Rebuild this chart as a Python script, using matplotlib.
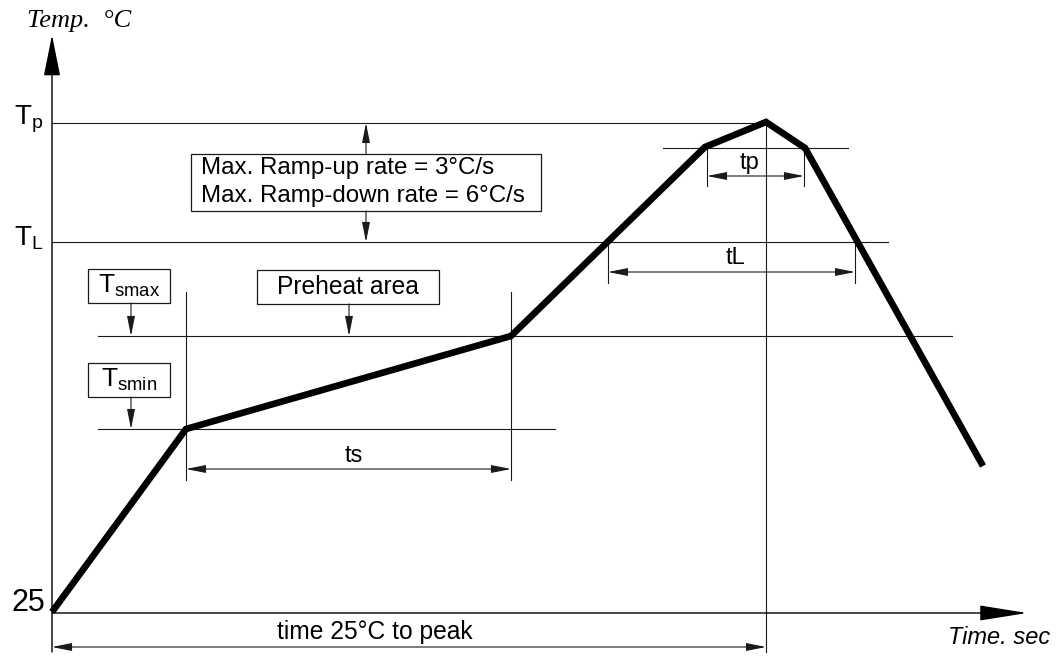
import matplotlib as mpl
mpl.use("Agg")
import matplotlib.pyplot as plt
from matplotlib.patches import Rectangle

# reflow profile, schematic units (time right, temperature up)
profile_time = [0, 134, 459, 653, 714, 753, 931]
profile_temp = [0, 183, 276, 465, 490, 464, 146]

# temperature levels
T_p = 489
T_L = 370
T_smax = 276
T_smin = 183
tp_level = 464

# time marks
ts_start, ts_end = 134, 459
tL_start, tL_end = 556, 803
tp_start, tp_end = 655, 752
t_peak = 714

LINE = "#1a1a1a"
thin = dict(color=LINE, lw=0.8)

plt.rcParams["font.family"] = ["Liberation Sans", "DejaVu Sans"]

fig = plt.figure(figsize=(10.59, 6.57), dpi=100)
ax = fig.add_axes([0, 0, 1, 1])
ax.set_xlim(-52, 1007)
ax.set_ylim(-45, 612)
ax.axis("off")


def arrow(x0, y0, x1, y1, style="-|>"):
    ax.annotate("", xy=(x1, y1), xytext=(x0, y0),
                arrowprops=dict(arrowstyle=style + ",head_length=1.0,head_width=0.2",
                                color=LINE, lw=0.8, shrinkA=0, shrinkB=0,
                                mutation_scale=12))


def box(x0, y0, x1, y1):
    ax.add_patch(Rectangle((x0, y0), x1 - x0, y1 - y0, fill=False,
                           edgecolor=LINE, lw=0.9))


# axes with big arrowheads
ax.annotate("", xy=(0, 577), xytext=(0, -40),
            arrowprops=dict(arrowstyle="-|>,head_length=1.3,head_width=0.26",
                            color="black", lw=1.0, shrinkA=0, shrinkB=0,
                            mutation_scale=20))
ax.annotate("", xy=(975, -1), xytext=(0, -1),
            arrowprops=dict(arrowstyle="-|>,head_length=1.5,head_width=0.24",
                            color="black", lw=1.0, shrinkA=0, shrinkB=0,
                            mutation_scale=20))

# horizontal level lines
ax.plot([0, t_peak], [T_p, T_p], **thin)
ax.plot([0, 836], [T_L, T_L], **thin)
ax.plot([46, 900], [T_smax, T_smax], **thin)
ax.plot([46, 503], [T_smin, T_smin], **thin)
ax.plot([611, 796], [tp_level, tp_level], **thin)

# vertical guide lines
ax.plot([t_peak, t_peak], [T_p + 2, -40], **thin)
ax.plot([ts_start, ts_start], [320, 132], **thin)
ax.plot([ts_end, ts_end], [320, 132], **thin)
ax.plot([tp_start, tp_start], [tp_level, 426], **thin)
ax.plot([tp_end, tp_end], [tp_level, 426], **thin)
ax.plot([tL_start, tL_start], [T_L, 329], **thin)
ax.plot([tL_end, tL_end], [T_L, 329], **thin)

# dimension arrows
arrow(ts_start, 143, ts_end, 143, "<|-|>")
arrow(tp_start, 436, tp_end, 436, "<|-|>")
arrow(tL_start, 340, tL_end, 340, "<|-|>")
arrow(0, -35, t_peak, -35, "<|-|>")

ax.text((ts_start + ts_end) / 2 + 5, 156, "ts", fontsize=17, ha="center", va="center")
ax.text((tp_start + tp_end) / 2 - 6, 449, "tp", fontsize=17, ha="center", va="center")
ax.text(684, 354, "tL", fontsize=17, ha="center", va="center")
ax.text(323, -20, "time 25°C to peak", fontsize=17.7, ha="center", va="center")

# ramp-rate box
box(139, 401, 489, 458)
ax.text(149, 444, "Max. Ramp-up rate = 3°C/s", fontsize=17.4, ha="left", va="center")
ax.text(149, 416, "Max. Ramp-down rate = 6°C/s", fontsize=17.4, ha="left", va="center")
arrow(314, 458, 314, T_p)
arrow(314, 401, 314, T_L)

# preheat labels
box(36, 309, 118, 343)
ax.text(77, 326, r"$\mathregular{T_{smax}}$", fontsize=19, ha="center", va="center")
arrow(79, 309, 79, T_smax)
box(36, 215, 118, 249)
ax.text(77, 232, r"$\mathregular{T_{smin}}$", fontsize=19, ha="center", va="center")
arrow(79, 215, 79, T_smin)
box(205, 308, 387, 342)
ax.text(296, 325, "Preheat area", fontsize=17.7, ha="center", va="center")
arrow(297, 308, 297, T_smax)

# axis labels
ax.text(-9, T_p + 4, r"$\mathregular{T_p}$", fontsize=20, ha="right", va="center")
ax.text(-9, T_L + 4, r"$\mathregular{T_L}$", fontsize=20, ha="right", va="center")
ax.text(-7, 9, "25", fontsize=22, ha="right", va="center")
ax.text(-25, 591, "Temp.  °C", fontsize=19, ha="left", va="center",
        family=["Liberation Serif", "DejaVu Serif"], style="italic")
ax.text(998, -25, "Time. sec", fontsize=17, ha="right", va="center", style="italic")

# profile curve
ax.plot(profile_time, profile_temp, color="black", lw=4.8,
        solid_joinstyle="miter", solid_capstyle="butt", zorder=5)

fig.savefig("out.png", dpi=100)
